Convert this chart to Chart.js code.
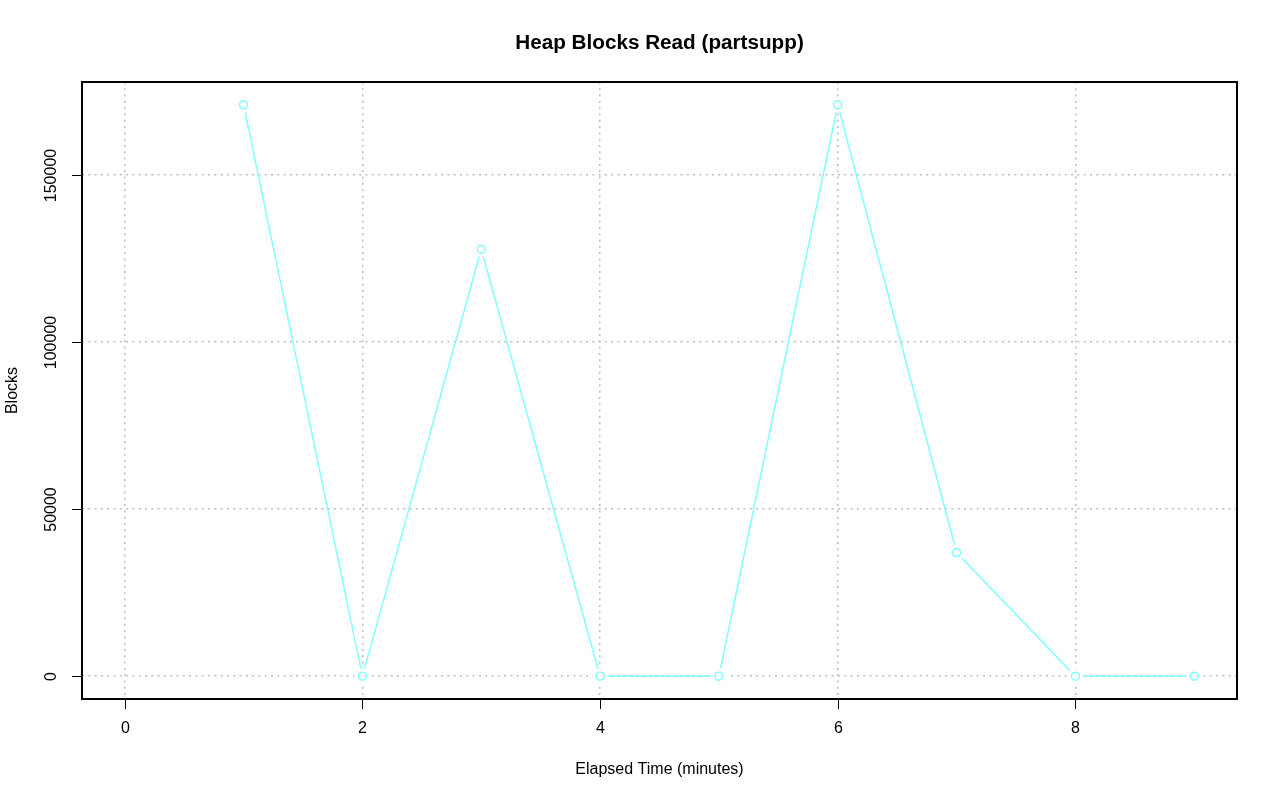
<!DOCTYPE html>
<html>
<head>
<meta charset="utf-8">
<script src="https://cdn.jsdelivr.net/npm/chart.js@4/dist/chart.umd.min.js"></script>
<style>
  html, body { margin: 0; padding: 0; background: #fff; }
  #wrap { width: 1280px; height: 801px; }
</style>
</head>
<body>
<div id="wrap"><canvas id="chart"></canvas></div>
<script>
// elapsed minutes and heap blocks read
const minutes = [1, 2, 3, 4, 5, 6, 7, 8, 9];
const blocks = [171000, 0, 127800, 0, 0, 171000, 37000, 0, 0];
const xTicks = [0, 2, 4, 6, 8];
const yTicks = [0, 50000, 100000, 150000];

const titleText = 'Heap Blocks Read (partsupp)';
const xTitle = 'Elapsed Time (minutes)';
const yTitle = 'Blocks';

const lineColor = '#80ffff';
const font = '"Liberation Sans", Arial, Helvetica, sans-serif';

const points = minutes.map((m, i) => ({ x: m, y: blocks[i] }));

// frame, ticks and labels like a base R plot
const rFrame = {
  id: 'rFrame',
  afterDraw(chart) {
    const { ctx, chartArea: a, scales } = chart;
    ctx.save();
    ctx.strokeStyle = '#000';
    ctx.lineWidth = 2;
    ctx.strokeRect(a.left, a.top, a.right - a.left, a.bottom - a.top);

    ctx.lineWidth = 1;
    ctx.fillStyle = '#000';
    ctx.font = '16px ' + font;
    ctx.textAlign = 'center';
    ctx.textBaseline = 'middle';
    xTicks.forEach(v => {
      const px = Math.round(scales.x.getPixelForValue(v)) + 0.5;
      ctx.beginPath();
      ctx.moveTo(px, a.bottom);
      ctx.lineTo(px, a.bottom + 10);
      ctx.stroke();
      ctx.fillText(String(v), px, 729);
    });
    yTicks.forEach(v => {
      const py = Math.round(scales.y.getPixelForValue(v)) + 0.5;
      ctx.beginPath();
      ctx.moveTo(a.left, py);
      ctx.lineTo(a.left - 10, py);
      ctx.stroke();
      ctx.save();
      ctx.translate(52, py);
      ctx.rotate(-Math.PI / 2);
      ctx.fillText(String(v), 0, 0);
      ctx.restore();
    });

    ctx.fillText(xTitle, (a.left + a.right) / 2, 770);
    ctx.save();
    ctx.translate(13, (a.top + a.bottom) / 2);
    ctx.rotate(-Math.PI / 2);
    ctx.fillText(yTitle, 0, 0);
    ctx.restore();

    ctx.font = 'bold 20.7px ' + font;
    ctx.fillText(titleText, (a.left + a.right) / 2, 43);
    ctx.restore();
  }
};

const gridOpts = { color: '#bdbdbd', lineWidth: 1.5, drawTicks: false };
const borderOpts = { display: false, dash: [2, 4.3] };

new Chart(document.getElementById('chart'), {
  type: 'line',
  data: {
    datasets: [
      {
        data: points,
        showLine: false,
        pointRadius: 4,
        pointBorderWidth: 1.5,
        pointBorderColor: lineColor,
        pointBackgroundColor: 'rgba(0,0,0,0)'
      },
      {
        // white gap around each point, as in type = "b"
        data: points,
        showLine: false,
        pointRadius: 8,
        pointBorderWidth: 0,
        pointBackgroundColor: '#fff',
        pointBorderColor: '#fff'
      },
      {
        data: points,
        borderColor: lineColor,
        borderWidth: 1.5,
        pointRadius: 0,
        tension: 0,
        fill: false
      }
    ]
  },
  options: {
    responsive: true,
    maintainAspectRatio: false,
    animation: false,
    layout: { padding: { left: 82, right: 43, top: 82, bottom: 102 } },
    plugins: {
      legend: { display: false },
      tooltip: { enabled: false },
      title: { display: false }
    },
    scales: {
      x: {
        type: 'linear',
        min: -0.36,
        max: 9.36,
        z: 1,
        afterBuildTicks: s => { s.ticks = xTicks.map(v => ({ value: v })); },
        ticks: { display: false },
        border: borderOpts,
        grid: gridOpts
      },
      y: {
        min: -6840,
        max: 177840,
        z: 1,
        afterBuildTicks: s => { s.ticks = yTicks.map(v => ({ value: v })); },
        ticks: { display: false },
        border: borderOpts,
        grid: gridOpts
      }
    }
  },
  plugins: [rFrame]
});
</script>
</body>
</html>
